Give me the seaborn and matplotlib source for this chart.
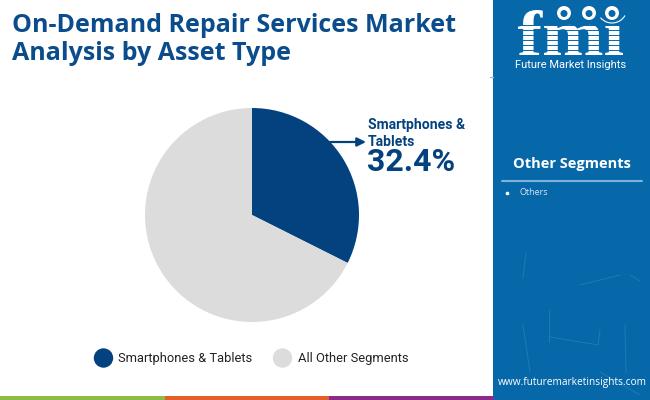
import matplotlib
matplotlib.use('Agg')
import matplotlib.pyplot as plt
from matplotlib.patches import Rectangle, Circle, PathPatch, Arc
from matplotlib.textpath import TextPath
from matplotlib.font_manager import FontProperties
from matplotlib.transforms import Affine2D
import seaborn as sns

# data
segments = ['Smartphones & Tablets', 'All Other Segments']
shares = [32.4, 67.6]
pie_colors = ['#03417f', '#dcdcdc']
title_lines = ['On-Demand Repair Services Market', 'Analysis by Asset Type']
side_title = 'Other Segments'
side_items = ['Others']
footer_colors = ['#8cbb46', '#e25f2c', '#8a2a8b']

sns.set_theme(style='white')
plt.rcParams['font.family'] = ['Roboto', 'DejaVu Sans']

NAVY = '#03417f'
PANEL = '#0768a9'
SCRATCH = '#2f86bd'

fig = plt.figure(figsize=(6.5, 4), dpi=100, facecolor='white')

# whole figure in pixel coordinates for the furniture
bg = fig.add_axes([0, 0, 1, 1])
bg.set_xlim(0, 650)
bg.set_ylim(400, 0)
bg.axis('off')

# side panel
bg.add_patch(Rectangle((493, 0), 157, 400, color=PANEL, lw=0))
bg.plot([490, 493], [77, 77], color='#9fb6cc', lw=1)

# faint scratches on the panel
for xs, ys in [([526, 523], [253, 278]), ([625, 626], [325, 373]), ([550, 598, 600], [337, 345, 330]),
               ([549, 549], [310, 342]), ([630, 640], [275, 281]), ([580, 620], [285, 275]),
               ([523, 530], [325, 372]), ([600, 640], [372, 395])]:
    bg.plot(xs, ys, color=SCRATCH, lw=0.7, alpha=0.6)

# footer strip
for i, c in enumerate(footer_colors):
    bg.add_patch(Rectangle((i * 164.5, 396), 164.5, 4, color=c, lw=0))

# title
for i, line in enumerate(title_lines):
    bg.text(12, 25 + i * 29, line, fontsize=18.0, fontweight='bold', color='#0b4c8c',
            family=['Open Sans', 'DejaVu Sans'], va='center', ha='left')

# logo: letters stretched to the box of the original mark
tp = TextPath((0, 0), 'fm\u0131', size=10, prop=FontProperties(family='Liberation Serif', weight='bold'))
box = tp.get_extents()
sx = (623 - 518) / box.width
sy = (55 - 10) / box.height
to_px = Affine2D().translate(-box.x0, -box.y0).scale(sx, -sy).translate(518, 55)
bg.add_patch(PathPatch(to_px.transform_path(tp), color='white', lw=0))
for y in [25, 30, 35, 40, 45, 50]:
    bg.plot([516, 626], [y, y], color=PANEL, lw=0.7)
for x in [564, 589, 612]:
    bg.add_patch(Circle((x, 13), 7, color='white', lw=0))
    bg.add_patch(Circle((x, 13.5), 3.5, color=PANEL, lw=0))
bg.add_patch(Arc((612, 8), 30, 30, theta1=30, theta2=140, color='white', lw=0.8))
bg.text(571, 65, 'Future Market Insights', fontsize=8.0, color='white', ha='center', va='center')

# side panel text
bg.text(571.5, 164, side_title, fontsize=10.5, fontweight='bold', color='white',
        family=['Open Sans', 'DejaVu Sans'], ha='center', va='center')
bg.plot([502, 642], [181, 181], color='#7fb2d6', lw=1.5)
bg.plot([507], [192.5], marker='o', ms=1.6, color='white')
for item in side_items:
    bg.text(519, 192.5, item, fontsize=6.5, color='#d5e6f2',
            family=['Open Sans', 'DejaVu Sans'], va='center', ha='left')
bg.text(572, 383, 'www.futuremarketinsights.com', fontsize=7.3, color='white',
        family=['Open Sans', 'DejaVu Sans'], ha='center', va='center')

# pie
ax = fig.add_axes([(252 - 108) / 650, 1 - (215 + 108) / 400, 216 / 650, 216 / 400])
ax.pie(shares, colors=pie_colors, startangle=90, counterclock=False, radius=1.0,
       wedgeprops={'linewidth': 0})
ax.set_xlim(-108 / 107, 108 / 107)
ax.set_ylim(-108 / 107, 108 / 107)

# callout over the pie
over = fig.add_axes([0, 0, 1, 1])
over.set_xlim(0, 650)
over.set_ylim(400, 0)
over.axis('off')
over.annotate('', xy=(366, 142), xytext=(330, 142),
              arrowprops=dict(arrowstyle='-|>', color=NAVY, lw=1.6, mutation_scale=13, shrinkA=0, shrinkB=0))
over.text(368, 125, 'Smartphones &', fontsize=10.1, fontweight='bold', color=NAVY, va='center', ha='left')
over.text(368, 142, 'Tablets', fontsize=10.1, fontweight='bold', color=NAVY, va='center', ha='left')
over.text(367, 162, f'{shares[0]}%', fontsize=23, fontweight='bold', color=NAVY, va='center', ha='left')

# legend
for x, label, color in [(103.5, segments[0], pie_colors[0]), (282.5, segments[1], pie_colors[1])]:
    over.add_patch(Circle((x, 358), 9.7, color=color, lw=0))
    over.text(x + 15, 358.5, label, fontsize=9.3, color='#222222', va='center', ha='left')

fig.savefig('out.png', dpi=100)
